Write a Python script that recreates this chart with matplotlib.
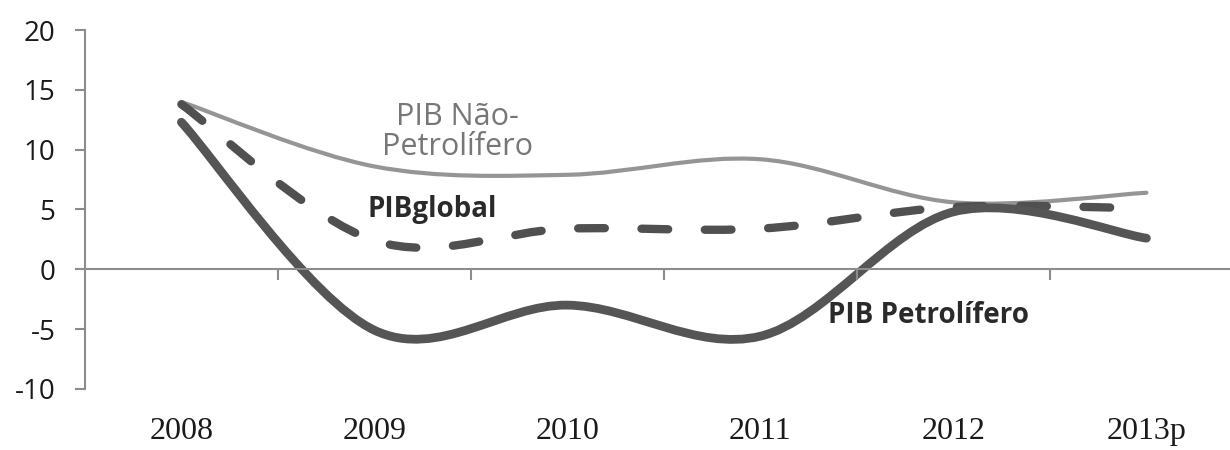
import matplotlib.pyplot as plt
import numpy as np
from matplotlib.path import Path
from matplotlib.patches import PathPatch

# dados (taxa de crescimento do PIB, %)
anos = ["2008", "2009", "2010", "2011", "2012", "2013p"]
pib_nao_petrolifero = [14.0, 8.6, 7.9, 9.2, 5.6, 6.4]
pib_global = [13.8, 2.4, 3.4, 3.4, 5.2, 5.1]
pib_petrolifero = [12.3, -5.1, -3.0, -5.6, 4.8, 2.6]


def curva_suave(xs, ys):
    # curva suavizada tipo Excel (bezier por Catmull-Rom)
    pts = list(zip(xs, ys))
    verts = [pts[0]]
    codes = [Path.MOVETO]
    n = len(pts)
    for i in range(n - 1):
        p0 = pts[i - 1] if i > 0 else pts[i]
        p1 = pts[i]
        p2 = pts[i + 1]
        p3 = pts[i + 2] if i + 2 < n else pts[i + 1]
        c1 = (p1[0] + (p2[0] - p0[0]) / 6, p1[1] + (p2[1] - p0[1]) / 6)
        c2 = (p2[0] - (p3[0] - p1[0]) / 6, p2[1] - (p3[1] - p1[1]) / 6)
        verts += [c1, c2, p2]
        codes += [Path.CURVE4] * 3
    return Path(verts, codes)


fig = plt.figure(figsize=(12.3, 4.5), dpi=100)
ax = fig.add_axes([0.069, 0.136, 0.9415, 0.797])

x = np.arange(len(anos))

ax.add_patch(PathPatch(curva_suave(x, pib_nao_petrolifero), fill=False,
                       edgecolor="#959595", lw=3, capstyle="round"))
ax.add_patch(PathPatch(curva_suave(x, pib_global), fill=False,
                       edgecolor="#505050", lw=6, linestyle=(0, (3.2, 4.4)),
                       capstyle="round"))
ax.add_patch(PathPatch(curva_suave(x, pib_petrolifero), fill=False,
                       edgecolor="#555555", lw=6.3, capstyle="round"))

ax.set_xlim(-0.5, 5.5)
ax.set_ylim(-10, 20)
ax.set_yticks([-10, -5, 0, 5, 10, 15, 20])
ax.set_yticklabels(["-10", "-5", "0", "5", "10", "15", "20"],
                   fontsize=20, family="Open Sans")

# eixo x na linha do zero, marcas entre categorias
ax.spines["bottom"].set_position(("data", 0))
ax.spines["top"].set_visible(False)
ax.spines["right"].set_visible(False)
ax.spines["left"].set_color("#8c8c8c")
ax.spines["bottom"].set_color("#8c8c8c")
ax.spines["left"].set_linewidth(1.5)
ax.spines["bottom"].set_linewidth(1.5)
ax.set_xticks(np.arange(0.5, 5.5, 1))
ax.set_xticklabels([])
ax.tick_params(axis="x", direction="out", length=8, color="#8c8c8c", width=1.5)
ax.tick_params(axis="y", direction="out", length=7.2, color="#8c8c8c", width=1.5,
               pad=14, labelcolor="#1a1a1a")

for i, a in enumerate(anos):
    ax.text(i, -13.6, a, ha="center", va="center", fontsize=23,
            family="Liberation Serif", color="#1a1a1a")

ax.text(1.43, 11.5, "PIB Não-\nPetrolífero", ha="center", va="center",
        fontsize=22, color="#777777", family="Open Sans", linespacing=1.0)
ax.text(1.30, 5.0, "PIBglobal", ha="center", va="center", fontsize=20,
        color="#2a2a2a", family="Open Sans", fontweight="bold")
ax.text(3.87, -3.9, "PIB Petrolífero", ha="center", va="center", fontsize=20,
        color="#2a2a2a", family="Open Sans", fontweight="bold")

fig.savefig("out.png", dpi=100)
